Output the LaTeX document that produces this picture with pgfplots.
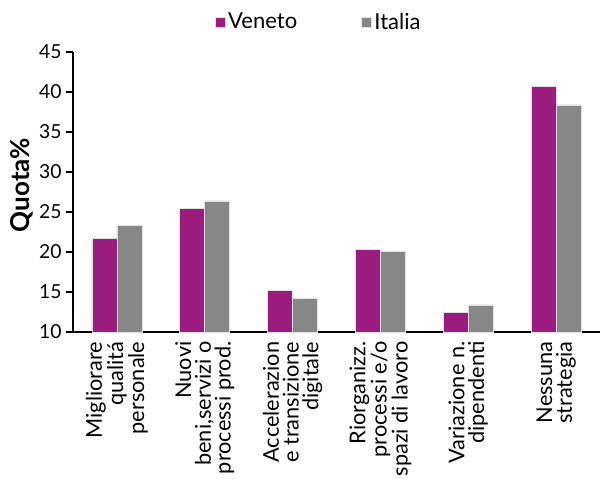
\documentclass[border=0pt]{standalone}
\usepackage{fontspec}
\setmainfont{Lato}
\usepackage{pgfplots}
\pgfplotsset{compat=1.18}
\definecolor{veneto}{HTML}{9B1B7E}
\definecolor{italia}{HTML}{878787}
\begin{document}
\begin{tikzpicture}
\begin{axis}[
  scale only axis,
  width=395.25pt, height=210pt,
  xmin=-0.5, xmax=5.5, ymin=10, ymax=45,
  ytick={10,15,...,45},
  xtick={0,...,5},
  xticklabels={{Migliorare\\qualitá\\personale},{Nuovi\\beni,servizi o\\processi prod.},{Accelerazion\\e transizione\\digitale},{Riorganizz.\\processi e/o\\spazi di lavoro},{Variazione n.\\dipendenti},{Nessuna\\strategia}},
  xticklabel style={rotate=90, anchor=east, align=right, font=\fontsize{16.3}{14.8}\selectfont, inner sep=2pt},
  yticklabel style={font=\fontsize{14.5}{17}\selectfont},
  /pgf/number format/assume math mode=true,
  axis x line=bottom, axis y line=left,
  axis line style={-, line width=0.9pt},
  x axis line style={line width=1.1pt},
  major x tick style={draw=none},
  ytick style={line width=0.9pt, black},
  tick align=outside,
  major tick length=5pt,
  ybar=0pt, bar width=18.75pt,
  ylabel={\textbf{Quota\%}},
  ylabel style={font=\fontsize{19.5}{22}\selectfont, at={(axis description cs:-0.097,0.525)}, anchor=center},
  legend columns=2,
  legend style={draw=none, fill=none, at={(0.467,1.107)}, anchor=center, font=\fontsize{16.5}{20}\selectfont, /tikz/every even column/.append style={column sep=46pt}},
  legend image code/.code={\fill[#1] (0pt,-3.75pt) rectangle (7.5pt,3.75pt);},
]
\addplot[fill=veneto, draw=black!12, line width=0.4pt] coordinates {(0,21.7) (1,25.5) (2,15.2) (3,20.3) (4,12.5) (5,40.7)};
\addplot[fill=italia, draw=black!12, line width=0.4pt] coordinates {(0,23.3) (1,26.4) (2,14.2) (3,20.1) (4,13.4) (5,38.4)};
\legend{Veneto,Italia}
\path (rel axis cs:0,0) ++(-54.75pt,-102pt) coordinate (bl);
\path (rel axis cs:1,1) ++(0.75pt,39pt) coordinate (tr);
\end{axis}
\useasboundingbox (bl) rectangle (tr);
\end{tikzpicture}
\end{document}
